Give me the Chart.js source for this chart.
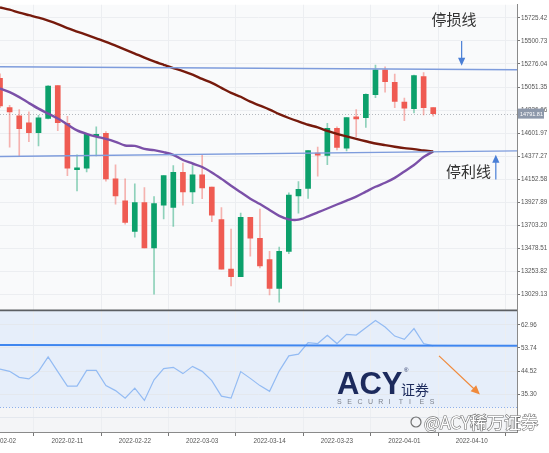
<!DOCTYPE html>
<html>
<head>
<meta charset="utf-8">
<style>
  html, body { margin: 0; padding: 0; background: #ffffff; }
  canvas { display: block; }
</style>
</head>
<body>
<canvas id="chart" width="549" height="453"></canvas>
<script src="https://cdn.jsdelivr.net/npm/chart.js@4.4.1/dist/chart.umd.min.js"></script>
<script>
// ===== data (NAS100 daily, 2022-02-02 .. 2022-04-06) =====
const dates = [
  "2022-02-02","2022-02-03","2022-02-04","2022-02-07","2022-02-08","2022-02-09","2022-02-10","2022-02-11",
  "2022-02-14","2022-02-15","2022-02-16","2022-02-17","2022-02-18","2022-02-21","2022-02-22",
  "2022-02-23","2022-02-24","2022-02-25","2022-02-28","2022-03-01","2022-03-02","2022-03-03",
  "2022-03-04","2022-03-07","2022-03-08","2022-03-09","2022-03-10","2022-03-11","2022-03-14",
  "2022-03-15","2022-03-16","2022-03-17","2022-03-18","2022-03-21","2022-03-22","2022-03-23",
  "2022-03-24","2022-03-25","2022-03-28","2022-03-29","2022-03-30","2022-03-31","2022-04-01",
  "2022-04-04","2022-04-05","2022-04-06"
];
const opens  = [15137, 14850, 14770, 14703, 14606, 14744, 15065, 14696, 14245, 14259, 14570, 14599, 14155, 13940, 13641, 13924, 13480, 13898, 13876, 14220, 14027, 14194, 14075, 13757, 13274, 13200, 13779, 13576, 13367, 13087, 13448, 13989, 14062, 14406, 14384, 14648, 14455, 14760, 14751, 14976, 15220, 15098, 14905, 14841, 15152, 14850];
const highs  = [15180, 14872, 14831, 14809, 14776, 15065, 15065, 14766, 14390, 14590, 14664, 14616, 14293, 14155, 14107, 14069, 13982, 14187, 14284, 14310, 14284, 14390, 14075, 13876, 13666, 13821, 13779, 13859, 13448, 13490, 14020, 14129, 14432, 14464, 14696, 14664, 14754, 14831, 14985, 15265, 15249, 15178, 14944, 15169, 15191, 14850];
const lows   = [14850, 14464, 14374, 14519, 14477, 14739, 14625, 14187, 14037, 14223, 14380, 14133, 13907, 13714, 13586, 13480, 13029, 13763, 13692, 13898, 13914, 13962, 13738, 13274, 13110, 13200, 13400, 13287, 13023, 12952, 13425, 13821, 13965, 14181, 14293, 14438, 14428, 14567, 14657, 14947, 15002, 14850, 14722, 14799, 14780, 14766];
const closes = [14867, 14809, 14645, 14606, 14751, 15060, 14703, 14259, 14262, 14590, 14590, 14155, 13989, 13731, 13924, 13480, 13914, 14187, 14220, 14027, 14194, 14066, 13801, 13274, 13200, 13779, 13576, 13306, 13087, 13448, 13998, 14052, 14432, 14387, 14648, 14461, 14754, 14741, 14979, 15220, 15104, 14911, 14844, 15162, 14850, 14791.81];

const maLong  = [15828, 15806, 15777, 15752, 15728, 15699, 15666, 15627, 15593, 15560, 15526, 15492, 15455, 15417, 15378, 15338, 15301, 15268, 15236, 15207, 15173, 15130, 15091, 15043, 14995, 14956, 14908, 14870, 14831, 14787, 14749, 14715, 14683, 14657, 14623, 14594, 14570, 14546, 14522, 14500, 14484, 14469, 14455, 14445, 14432, 14421];
const maShort = [15038, 15002, 14953, 14895, 14840, 14792, 14744, 14686, 14628, 14594, 14567, 14546, 14517, 14481, 14477, 14447, 14435, 14416, 14390, 14339, 14305, 14271, 14218, 14155, 14088, 14025, 13962, 13909, 13851, 13794, 13760, 13757, 13789, 13827, 13866, 13905, 13943, 13982, 14030, 14078, 14117, 14165, 14228, 14291, 14368, 14423];
const rsi = [45.3, 44.4, 42.0, 41.4, 44.4, 50.2, 44.3, 38.5, 38.5, 44.8, 44.8, 38.7, 36.7, 33.7, 37.7, 32.8, 41.0, 45.5, 46.0, 43.5, 46.4, 44.4, 40.7, 34.5, 33.7, 44.3, 41.6, 38.7, 36.4, 44.5, 50.6, 51.3, 55.9, 55.5, 58.8, 55.5, 59.2, 58.9, 61.8, 64.7, 62.1, 58.5, 57.2, 61.5, 55.5, 54.6];

const xTickLabels = ["2022-02-02", "2022-02-11", "2022-02-22", "2022-03-03", "2022-03-14", "2022-03-23", "2022-04-01", "2022-04-10"];
const priceTicks = [15725.42, 15500.73, 15276.04, 15051.35, 14826.66, 14601.97, 14377.27, 14152.58, 13927.89, 13703.20, 13478.51, 13253.82, 13029.13];
const rsiTicks = [26.08, 35.30, 44.52, 53.74, 62.96];
const rsiBand = [30, 70];

// drawn trend lines: value at left edge and at right edge of the plot
const lineEnds = [0, 53.7];
const stopLine = [15249, 15220];
const takeLine = [14374, 14428];
const rsiLevel = [54.9, 54.6];

const GREEN = "#0ca06b";
const RED = "#ef5b52";
const idx = closes.map((_, i) => i);
const lastClose = closes[closes.length - 1];

function arrow(ctx, x1, y1, x2, y2, color, head) {
  const ang = Math.atan2(y2 - y1, x2 - x1);
  const c = Math.cos(ang), s = Math.sin(ang);
  ctx.strokeStyle = color;
  ctx.fillStyle = color;
  ctx.lineWidth = 1.2;
  ctx.beginPath();
  ctx.moveTo(x1, y1);
  ctx.lineTo(x2 - head * c * 0.8, y2 - head * s * 0.8);
  ctx.stroke();
  ctx.beginPath();
  ctx.moveTo(x2, y2);
  ctx.lineTo(x2 - head * c + head * 0.45 * s, y2 - head * s - head * 0.45 * c);
  ctx.lineTo(x2 - head * c - head * 0.45 * s, y2 - head * s + head * 0.45 * c);
  ctx.closePath();
  ctx.fill();
}

const panes = {
  id: "panes",
  beforeDraw(chart) {
    const { ctx, chartArea: a, scales } = chart;
    const r = scales.yRsi;
    ctx.save();
    ctx.fillStyle = "#f9fafb";
    ctx.fillRect(a.left, a.top, a.width, a.height);
    ctx.fillStyle = "#f4f5f7";
    ctx.fillRect(a.left, r.top, a.width, r.bottom - r.top);
    const t = Math.max(r.getPixelForValue(rsiBand[1]), r.top);
    const b = r.getPixelForValue(rsiBand[0]);
    ctx.fillStyle = "#e6eefa";
    ctx.fillRect(a.left, t, a.width, b - t);
    ctx.restore();
  },
  beforeDatasetsDraw(chart) {
    const { ctx, chartArea: a, scales } = chart;
    ctx.save();
    ctx.lineWidth = 1;
    ctx.setLineDash([1, 2]);
    ctx.strokeStyle = "#8cb0ec";
    const y30 = Math.round(scales.yRsi.getPixelForValue(rsiBand[0])) + 0.5;
    ctx.beginPath(); ctx.moveTo(a.left, y30); ctx.lineTo(a.right, y30); ctx.stroke();
    ctx.strokeStyle = "#b4b8be";
    const yp = Math.round(scales.y.getPixelForValue(lastClose)) + 0.5;
    ctx.beginPath(); ctx.moveTo(a.left, yp); ctx.lineTo(a.right, yp); ctx.stroke();
    ctx.restore();
  },
  afterDraw(chart) {
    const { ctx, chartArea: a, scales } = chart;
    const x = scales.x, y = scales.y, r = scales.yRsi;
    ctx.save();
    // pane separator
    ctx.strokeStyle = "#5c5f63";
    ctx.lineWidth = 1.6;
    ctx.beginPath(); ctx.moveTo(a.left, y.bottom); ctx.lineTo(a.right, y.bottom); ctx.stroke();

    // last price tag
    const yp = y.getPixelForValue(lastClose);
    ctx.fillStyle = "#8d98aa";
    ctx.fillRect(a.right + 1, yp - 5, 26, 10);
    ctx.fillStyle = "#ffffff";
    ctx.font = '5.5px "Liberation Sans"';
    ctx.textAlign = "left";
    ctx.textBaseline = "middle";
    ctx.fillText(lastClose.toFixed(2), a.right + 3, yp + 0.5);

    // annotations
    ctx.fillStyle = "#333333";
    ctx.font = '15px "Noto Sans CJK SC"';
    ctx.textAlign = "center";
    ctx.fillText("停损线", x.getPixelForValue(47.15), y.getPixelForValue(15712));
    ctx.fillText("停利线", x.getPixelForValue(48.67), y.getPixelForValue(14225));
    arrow(ctx, x.getPixelForValue(47.95), y.getPixelForValue(15500), x.getPixelForValue(47.95), y.getPixelForValue(15258), "#4a7fd6", 8);
    arrow(ctx, x.getPixelForValue(51.5), y.getPixelForValue(14149), x.getPixelForValue(51.5), y.getPixelForValue(14390), "#4a7fd6", 8);
    arrow(ctx, x.getPixelForValue(45.6), r.getPixelForValue(50.6), x.getPixelForValue(49.85), r.getPixelForValue(35.2), "#f08a3c", 9);

    // ACY watermark logo
    ctx.textAlign = "left";
    ctx.textBaseline = "alphabetic";
    ctx.fillStyle = "#1c2a5c";
    ctx.font = 'bold 31px "Liberation Sans"';
    ctx.fillText("ACY", 337, 394);
    ctx.font = '14px "Noto Sans CJK SC"';
    ctx.fillText("证券", 401, 395);
    ctx.font = '6px "Liberation Sans"';
    ctx.fillText("®", 404, 372);
    ctx.fillStyle = "#7d828c";
    ctx.font = '7px "Liberation Sans"';
    "SECURITIES".split("").forEach((ch, k) => ctx.fillText(ch, 337 + k * 10.3, 404));

    // weibo watermark
    ctx.font = '17px "Noto Sans CJK SC"';
    ctx.lineWidth = 1.2;
    ctx.strokeStyle = "rgba(70,70,70,0.75)";
    ctx.fillStyle = "#ffffff";
    ctx.strokeText("@ACY稀万证券", 424, 429);
    ctx.fillText("@ACY稀万证券", 424, 429);
    ctx.beginPath();
    ctx.ellipse(416, 422, 5, 5, 0, 0, Math.PI * 2);
    ctx.stroke();
    ctx.restore();
  }
};

const axisFont = { size: 6.3, family: '"Liberation Sans", Arial, sans-serif' };

new Chart(document.getElementById("chart"), {
  type: "bar",
  data: {
    datasets: [
      { type: "line", label: "停损线", data: lineEnds.map((v, k) => ({ x: v, y: stopLine[k] })), yAxisID: "y",
        borderColor: "#7e9cdc", borderWidth: 1.4, pointRadius: 0, order: 0 },
      { type: "line", label: "停利线", data: lineEnds.map((v, k) => ({ x: v, y: takeLine[k] })), yAxisID: "y",
        borderColor: "#7e9cdc", borderWidth: 1.4, pointRadius: 0, order: 0 },
      { type: "line", label: "MA long", data: idx.map(i => ({ x: i, y: maLong[i] })), yAxisID: "y",
        borderColor: "#761a0c", borderWidth: 2.4, pointRadius: 0, tension: 0.3, order: 1 },
      { type: "line", label: "MA short", data: idx.map(i => ({ x: i, y: maShort[i] })), yAxisID: "y",
        borderColor: "#7b50a8", borderWidth: 2.4, pointRadius: 0, tension: 0.3, order: 1 },
      { type: "bar", label: "body", data: idx.map(i => ({ x: i, y: [opens[i], closes[i]] })), yAxisID: "y",
        backgroundColor: idx.map(i => closes[i] >= opens[i] ? GREEN : RED),
        barThickness: 5, grouped: false, minBarLength: 1.5, borderWidth: 0, order: 2 },
      { type: "bar", label: "wick", data: idx.map(i => ({ x: i, y: [lows[i], highs[i]] })), yAxisID: "y",
        backgroundColor: idx.map(i => closes[i] >= opens[i] ? "rgba(12,160,107,0.45)" : "rgba(239,91,82,0.45)"),
        barThickness: 1, grouped: false, borderWidth: 0, order: 3 },
      { type: "line", label: "RSI", data: idx.map(i => ({ x: i, y: rsi[i] })), yAxisID: "yRsi",
        borderColor: "#93bbf3", borderWidth: 1.2, pointRadius: 0, order: 1 },
      { type: "line", label: "RSI level", data: lineEnds.map((v, k) => ({ x: v, y: rsiLevel[k] })), yAxisID: "yRsi",
        borderColor: "#3f86ef", borderWidth: 2, pointRadius: 0, order: 0 }
    ]
  },
  options: {
    responsive: false,
    animation: false,
    devicePixelRatio: 1,
    layout: { padding: 0 },
    plugins: { legend: { display: false }, tooltip: { enabled: false } },
    scales: {
      x: {
        type: "linear", min: 0, max: 53.7, offset: false,
        grid: { color: "#eceef1", tickColor: "#777", tickLength: 4 },
        border: { color: "#8a8a8a" },
        ticks: { font: axisFont, color: "#555", maxRotation: 0, autoSkip: false, padding: 1,
                 callback: (v, k) => xTickLabels[k] },
        afterBuildTicks: s => { s.ticks = xTickLabels.map((_, k) => ({ value: k * 7 })); },
        afterFit: s => { s.height = 21; s.paddingLeft = 0; s.paddingRight = 0; }
      },
      y: {
        type: "linear", position: "right", stack: "panes", stackWeight: 309,
        min: 12871.9, max: 15853.8,
        grid: { color: "#eceef1", tickColor: "#777", tickLength: 3 },
        border: { color: "#8a8a8a" },
        ticks: { font: axisFont, color: "#555", padding: 1, callback: v => v.toFixed(2) },
        afterBuildTicks: s => { s.ticks = priceTicks.map(v => ({ value: v })); },
        afterFit: s => { s.width = 32; }
      },
      yRsi: {
        type: "linear", position: "right", stack: "panes", stackWeight: 123,
        min: 20.17, max: 68.77,
        grid: { color: "#e4e8ee", tickColor: "#777", tickLength: 3 },
        border: { color: "#8a8a8a" },
        ticks: { font: axisFont, color: "#555", padding: 1, callback: v => v < rsiBand[0] ? "" : v.toFixed(2) },
        afterBuildTicks: s => { s.ticks = rsiTicks.map(v => ({ value: v })); },
        afterFit: s => { s.width = 32; }
      }
    }
  },
  plugins: [panes]
});
</script>
</body>
</html>
